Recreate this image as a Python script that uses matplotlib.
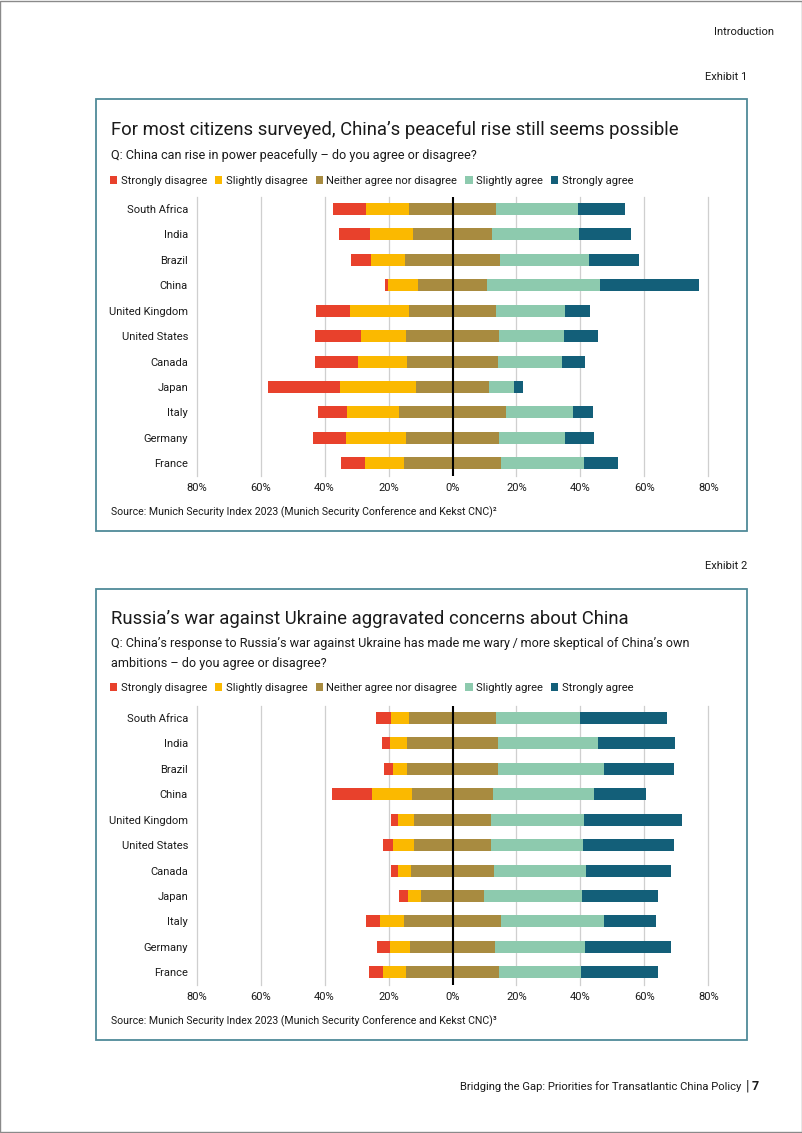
import numpy as np
import matplotlib.pyplot as plt
from matplotlib.patches import Rectangle

plt.rcParams['font.family'] = ['Roboto', 'DejaVu Sans']

countries = ["South Africa", "India", "Brazil", "China", "United Kingdom", "United States",
             "Canada", "Japan", "Italy", "Germany", "France"]
answers = ["Strongly disagree", "Slightly disagree", "Neither agree nor disagree",
           "Slightly agree", "Strongly agree"]
colors = ["#e8412c", "#fbb900", "#a88b40", "#8dcaae", "#135f79"]
tick_values = [-80, -60, -40, -20, 0, 20, 40, 60, 80]
tick_labels = ["80%", "60%", "40%", "20%", "0%", "20%", "40%", "60%", "80%"]

# Exhibit 1 - China can rise in power peacefully
strongly_disagree_1 = [10.3, 9.8, 6.2, 1.0, 10.6, 14.4, 13.5, 22.5, 9.3, 10.2, 7.7]
slightly_disagree_1 = [13.5, 13.3, 10.6, 9.2, 18.6, 14.2, 15.2, 23.7, 16.0, 18.7, 12.2]
neither_1 = [27.2, 25.0, 29.9, 21.8, 27.1, 28.9, 28.5, 23.1, 33.7, 29.3, 30.1]
slightly_agree_1 = [25.6, 27.1, 27.6, 35.3, 21.5, 20.3, 19.9, 7.8, 20.9, 20.6, 26.1]
strongly_agree_1 = [14.6, 16.1, 15.7, 30.9, 8.1, 10.9, 7.3, 2.6, 6.1, 8.9, 10.7]

# Exhibit 2 - wary of China's ambitions after Russia's war
strongly_disagree_2 = [4.8, 2.7, 2.8, 12.5, 2.2, 3.0, 2.3, 3.0, 4.5, 3.8, 4.4]
slightly_disagree_2 = [5.6, 5.1, 4.3, 12.4, 4.9, 6.5, 4.1, 3.9, 7.6, 6.3, 7.1]
neither_2 = [27.2, 28.6, 28.4, 25.4, 24.2, 24.2, 25.9, 19.8, 30.2, 26.8, 29.3]
slightly_agree_2 = [26.4, 31.2, 33.1, 31.6, 29.1, 28.8, 28.9, 30.5, 32.2, 28.0, 25.4]
strongly_agree_2 = [27.2, 24.1, 21.9, 16.2, 30.5, 28.4, 26.5, 24.0, 16.4, 27.0, 24.2]

W, H = 802, 1133
fig = plt.figure(figsize=(W / 100, H / 100), dpi=100)
txt = "#1a1a1a"
frame = "#4f8a99"


def fx(px):
    return px / W


def fy(py):
    return 1 - py / H


def panel(top, bottom, series, legend_y):
    ax = fig.add_axes([fx(196.7), fy(bottom), (708.3 - 196.7) / W, (bottom - top) / H])
    vals = np.array(series)
    y = np.arange(len(countries))
    left = -(vals[0] + vals[1] + vals[2] / 2)
    for i in range(len(answers)):
        ax.barh(y, vals[i], left=left, height=0.47, color=colors[i], zorder=2, label=answers[i])
        left = left + vals[i]
    ax.set_xlim(-80, 80)
    ax.set_ylim(len(countries) - 0.5, -0.47)
    ax.set_xticks(tick_values)
    ax.set_xticklabels(tick_labels)
    ax.set_yticks(y)
    ax.set_yticklabels(countries)
    ax.tick_params(length=0, labelsize=8, colors=txt)
    ax.tick_params(axis="y", pad=6.3)
    ax.tick_params(axis="x", pad=5)
    for t in tick_values:
        if t != 0:
            ax.axvline(t, color="#cfcfcf", lw=0.9, zorder=1, clip_on=False)
    ax.axvline(0, color="black", lw=1.5, zorder=3)
    for s in ax.spines.values():
        s.set_visible(False)
    ax.legend(loc="center left", bbox_to_anchor=(fx(110), fy(legend_y)),
              bbox_transform=fig.transFigure, ncol=5, frameon=False, fontsize=8,
              handlelength=0.65, handleheight=0.65, handletextpad=0.3,
              columnspacing=0.75, borderpad=0, borderaxespad=0, labelcolor=txt)
    return ax


# page frame and exhibit boxes
fig.patches.append(Rectangle((0.0005, 0.0005), 0.999, 0.999, transform=fig.transFigure,
                             fill=False, edgecolor="#8a8a8a", lw=1))
for top, bottom in [(99, 531), (589, 1040)]:
    fig.patches.append(Rectangle((fx(96), fy(bottom)), (747 - 96) / W, (bottom - top) / H,
                                 transform=fig.transFigure, fill=False, edgecolor=frame, lw=1.3))

fig.text(fx(774), fy(32), "Introduction", ha="right", va="center", fontsize=8, color=txt)
fig.text(fx(747), fy(77), "Exhibit 1", ha="right", va="center", fontsize=8, color=txt)
fig.text(fx(747), fy(566), "Exhibit 2", ha="right", va="center", fontsize=8, color=txt)

fig.text(fx(111), fy(130), "For most citizens surveyed, China’s peaceful rise still seems possible",
         ha="left", va="center", fontsize=13.3, color=txt)
fig.text(fx(111), fy(155), "Q: China can rise in power peacefully – do you agree or disagree?",
         ha="left", va="center", fontsize=9.1, color=txt)
panel(197, 476, [strongly_disagree_1, slightly_disagree_1, neither_1, slightly_agree_1,
                 strongly_agree_1], 181)
fig.text(fx(111), fy(512), "Source: Munich Security Index 2023 (Munich Security Conference and Kekst CNC)²",
         ha="left", va="center", fontsize=7.6, color=txt)

fig.text(fx(111), fy(619), "Russia’s war against Ukraine aggravated concerns about China",
         ha="left", va="center", fontsize=13.3, color=txt)
fig.text(fx(111), fy(644), "Q: China’s response to Russia’s war against Ukraine has made me wary\u2009/\u2009more skeptical of China’s own",
         ha="left", va="center", fontsize=9.1, color=txt)
fig.text(fx(111), fy(663), "ambitions – do you agree or disagree?",
         ha="left", va="center", fontsize=9.1, color=txt)
panel(706, 985, [strongly_disagree_2, slightly_disagree_2, neither_2, slightly_agree_2,
                 strongly_agree_2], 688)
fig.text(fx(111), fy(1021), "Source: Munich Security Index 2023 (Munich Security Conference and Kekst CNC)³",
         ha="left", va="center", fontsize=7.6, color=txt)

fig.text(fx(741), fy(1087), "Bridging the Gap: Priorities for Transatlantic China Policy",
         ha="right", va="center", fontsize=8.1, color=txt)
fig.text(fx(747), fy(1086), "|", ha="center", va="center", fontsize=10, color=txt)
fig.text(fx(752), fy(1087), "7", ha="left", va="center", fontsize=9, fontweight="bold", color=txt)

fig.savefig("out.png", dpi=100)
